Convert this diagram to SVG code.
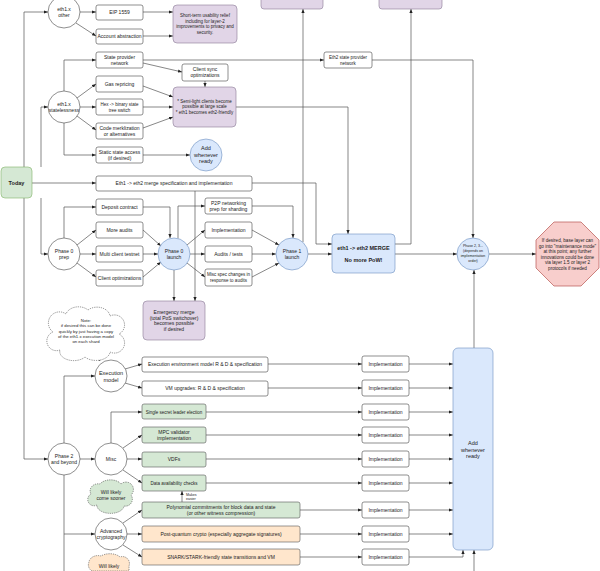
<svg xmlns="http://www.w3.org/2000/svg" width="600" height="571" viewBox="0 0 600 571">
<defs>
<marker id="a" viewBox="0 0 10 10" refX="10" refY="5" markerWidth="4" markerHeight="4" markerUnits="userSpaceOnUse" orient="auto"><path d="M0,1 L10,5 L0,9 z" fill="#222"/></marker>
<style>
text{font-family:"Liberation Sans",Arial,sans-serif;font-size:5px;fill:#222;text-anchor:middle}
.s{font-size:4.5px}
.c{fill:none;stroke:#555;stroke-width:0.7;marker-end:url(#a)}
.n{fill:none;stroke:#555;stroke-width:0.7}
.w{fill:#fff;stroke:#444;stroke-width:0.6}
.p{fill:#e1d5e7;stroke:#8a7a95;stroke-width:0.6}
.g{fill:#d5e8d4;stroke:#555;stroke-width:0.6}
.o{fill:#ffe6cc;stroke:#555;stroke-width:0.6}
.bl{fill:#dae8fc;stroke:#6c8ebf;stroke-width:0.6}
.r{fill:#f8cecc;stroke:#b85450;stroke-width:0.7}
.cl{stroke-dasharray:1.2 1;stroke:#444;stroke-width:0.6}
.bd{font-weight:bold}
</style>
</defs>
<rect width="600" height="571" fill="#fff"/>

<g id="connectors">
<path class="c" d="M24,167 V12 H48"/>
<path class="c" d="M41,167 V107 H48"/>
<path class="c" d="M32,183 H96"/>
<path class="c" d="M41,198 V254 H48"/>
<path class="c" d="M24,198 V459 H48"/>
<path class="c" d="M80,12 H96"/>
<path class="c" d="M76,23 L96,36"/>
<path class="c" d="M143,12 H173"/>
<path class="c" d="M143,36 H173"/>
<path class="c" d="M64,91 V60 H96"/>
<path class="c" d="M77,98 L96,84"/>
<path class="c" d="M80,107 H96"/>
<path class="c" d="M77,116 L96,130"/>
<path class="c" d="M64,123 V155 H96"/>
<path class="c" d="M143,63 L182,72"/>
<path class="c" d="M143,86 L173,97"/>
<path class="c" d="M143,107 H173"/>
<path class="c" d="M143,128 L173,117"/>
<path class="c" d="M205,81 V87"/>
<path class="c" d="M143,155 H190"/>
<path class="c" d="M143,60 H324"/>
<path class="c" d="M372,60 H473 V238"/>
<path class="c" d="M236,107 H348 V234"/>
<path class="c" d="M252,183 H316 V244 H332"/>
<path class="c" d="M195,191 V301"/>
<path class="c" d="M64,238 V207 H96"/>
<path class="c" d="M77,245 L96,230"/>
<path class="c" d="M80,254 H96"/>
<path class="c" d="M77,263 L96,277"/>
<path class="c" d="M143,207 H170 V238"/>
<path class="c" d="M143,230 L161,246"/>
<path class="c" d="M143,254 H158"/>
<path class="c" d="M143,277 L161,262"/>
<path class="c" d="M178,238.5 V206 H205"/>
<path class="c" d="M187,245 L205,230"/>
<path class="c" d="M190,254 H205"/>
<path class="c" d="M187,263 L205,277"/>
<path class="c" d="M174,270 V301"/>
<path class="c" d="M252,206 H293 V238"/>
<path class="c" d="M252,230 L279,245"/>
<path class="c" d="M252,254 H276"/>
<path class="c" d="M252,277 L279,263"/>
<path class="c" d="M308,254 H332"/>
<path class="c" d="M303,242 V9"/>
<path class="c" d="M395,244 H411 V9"/>
<path class="c" d="M395,254 H457"/>
<path class="c" d="M489,254 H536"/>
<path class="c" d="M474,348 V270"/>
<path class="c" d="M64,443 V376 H95"/>
<path class="c" d="M125,369 L142,364"/>
<path class="c" d="M125,383 L142,388"/>
<path class="c" d="M80,459 H95"/>
<path class="c" d="M111,443 V412 H142"/>
<path class="c" d="M123,448 L142,435"/>
<path class="c" d="M127,459 H142"/>
<path class="c" d="M123,470 L142,483"/>
<path class="n" d="M64,475 V571"/>
<path class="c" d="M64,534 H95"/>
<path class="c" d="M123,523 L142,510"/>
<path class="c" d="M127,534 H142"/>
<path class="c" d="M123,545 L142,557"/>
<path class="c" d="M182,502 V491"/>
<path class="c" d="M96,355 L100,361"/>
<path class="c" d="M268,364 H362"/><path class="c" d="M409,364 H453"/>
<path class="c" d="M268,388 H362"/><path class="c" d="M409,388 H453"/>
<path class="c" d="M206,412 H362"/><path class="c" d="M409,412 H453"/>
<path class="c" d="M206,435 H362"/><path class="c" d="M409,435 H453"/>
<path class="c" d="M206,459 H362"/><path class="c" d="M409,459 H453"/>
<path class="c" d="M206,483 H362"/><path class="c" d="M409,483 H453"/>
<path class="c" d="M300,510 H362"/><path class="c" d="M409,510 H453"/>
<path class="c" d="M300,534 H362"/><path class="c" d="M409,534 H453"/>
<path class="c" d="M300,557 H362"/><path class="c" d="M409,557 H463 V550"/>
<path class="c" d="M474,571 V550"/>
</g>

<g id="today"><rect class="g" x="1" y="167" width="31" height="31" rx="4" style="stroke:#82b366"/><text x="16.5" y="185" class="bd" style="font-size:5.5px">Today</text></g>

<g id="top1"><rect class="p" x="261" y="-10" width="62" height="19" rx="3"/></g>
<g id="top2"><rect class="p" x="379" y="-10" width="63" height="19" rx="3"/></g>

<g id="eth1other"><circle class="w" cx="64" cy="12" r="16"/><text x="64" y="11">eth1.x</text><text x="64" y="17">other</text></g>
<g id="eip1559"><rect class="w" x="96" y="5" width="47" height="15" rx="2"/><text x="119.5" y="14">EIP 1559</text></g>
<g id="accabs"><rect class="w" x="96" y="29" width="47" height="15" rx="2"/><text x="119.5" y="38">Account abstraction</text></g>
<g id="shortterm"><rect class="p" x="173" y="5" width="64" height="38" rx="4"/><text class="s" x="205" y="17">Short-term usability relief</text><text class="s" x="205" y="22.5">including for layer-2</text><text class="s" x="205" y="28">improvements to privacy and</text><text class="s" x="205" y="33.5">security.</text></g>

<g id="stateless"><circle class="w" cx="64" cy="107" r="16"/><text x="64" y="106">eth1.x</text><text x="64" y="112">statelessness</text></g>
<g id="spn"><rect class="w" x="96" y="52" width="47" height="16" rx="2"/><text x="119.5" y="59">State provider</text><text x="119.5" y="65">network</text></g>
<g id="gas"><rect class="w" x="96" y="76" width="47" height="16" rx="2"/><text x="119.5" y="85.5">Gas repricing</text></g>
<g id="hex"><rect class="w" x="96" y="99" width="47" height="16" rx="2"/><text class="s" x="119.5" y="106">Hex -&gt; binary state</text><text class="s" x="119.5" y="112">tree switch</text></g>
<g id="code"><rect class="w" x="96" y="123" width="47" height="16" rx="2"/><text x="119.5" y="129.5">Code merklization</text><text x="119.5" y="135.5">or alternatives</text></g>
<g id="static"><rect class="w" x="96" y="147" width="47" height="16" rx="2"/><text x="119.5" y="153.5">Static state access</text><text x="119.5" y="159.5">(if desired)</text></g>
<g id="clientsync"><rect class="w" x="182" y="64" width="46" height="17" rx="2"/><text x="205" y="71">Client sync</text><text x="205" y="77">optimizations</text></g>
<g id="semilight"><rect class="p" x="173" y="87" width="63" height="40" rx="4"/><text class="s" x="204.5" y="102.5">* Semi-light clients become</text><text class="s" x="204.5" y="108">possible at large scale</text><text class="s" x="204.5" y="113.5">* eth1 becomes eth2-friendly</text></g>
<g id="addready1"><circle class="bl" cx="206" cy="155" r="16"/><text x="206" y="150" style="font-size:5.5px">Add</text><text x="206" y="156.5" style="font-size:5.5px">whenever</text><text x="206" y="163" style="font-size:5.5px">ready</text></g>
<g id="eth2spn"><rect class="w" x="324" y="52" width="48" height="16" rx="2"/><text class="s" x="348" y="59">Eth2 state provider</text><text class="s" x="348" y="65">network</text></g>

<g id="mergespec"><rect class="w" x="96" y="176" width="156" height="15" rx="2"/><text x="174" y="185">Eth1 -&gt; eth2 merge specification and implementation</text></g>

<g id="p0prep"><circle class="w" cx="64" cy="254" r="16"/><text x="64" y="253">Phase 0</text><text x="64" y="259">prep</text></g>
<g id="deposit"><rect class="w" x="96" y="199" width="47" height="16" rx="2"/><text x="119.5" y="208.5">Deposit contract</text></g>
<g id="audits"><rect class="w" x="96" y="222" width="47" height="16" rx="2"/><text x="119.5" y="231.5">More audits</text></g>
<g id="testnet"><rect class="w" x="96" y="246" width="47" height="16" rx="2"/><text x="119.5" y="255.5">Multi client testnet</text></g>
<g id="clientopt"><rect class="w" x="96" y="270" width="47" height="16" rx="2"/><text x="119.5" y="279.5">Client optimizations</text></g>
<g id="p0launch"><circle class="bl" cx="174" cy="254" r="16"/><text x="174" y="253">Phase 0</text><text x="174" y="259">launch</text></g>
<g id="p2p"><rect class="w" x="205" y="198" width="47" height="16" rx="2"/><text x="228.5" y="204.5">P2P networking</text><text x="228.5" y="210.5">prep for sharding</text></g>
<g id="impl0"><rect class="w" x="205" y="222" width="47" height="16" rx="2"/><text x="228.5" y="231.5">Implementation</text></g>
<g id="auditstests"><rect class="w" x="205" y="246" width="47" height="16" rx="2"/><text x="228.5" y="255.5">Audits / tests</text></g>
<g id="miscspec"><rect class="w" x="205" y="269" width="47" height="17" rx="2"/><text class="s" x="228.5" y="276">Misc spec changes in</text><text class="s" x="228.5" y="282">response to audits</text></g>
<g id="p1launch"><circle class="bl" cx="292" cy="254" r="16"/><text x="292" y="253">Phase 1</text><text x="292" y="259">launch</text></g>
<g id="emergency"><rect class="p" x="143" y="301" width="62" height="39" rx="4"/><text x="174" y="314">Emergency merge</text><text x="174" y="319.5">(total PoS switchover)</text><text x="174" y="325">becomes possible</text><text x="174" y="330.5">if desired</text></g>
<g id="merge"><rect class="bl" x="332" y="234" width="63" height="39" rx="4"/><text x="363.5" y="250" class="bd" style="font-size:5.5px">eth1 -&gt; eth2 MERGE</text><text x="363.5" y="262" class="bd" style="font-size:5.5px">No more PoW!</text></g>
<g id="p23"><circle class="bl" cx="473" cy="254" r="16"/><text x="473" y="247" style="font-size:3.6px">Phase 2, 3...</text><text x="473" y="252" style="font-size:3.6px">(depends on</text><text x="473" y="257" style="font-size:3.6px">implementation</text><text x="473" y="262" style="font-size:3.6px">order)</text></g>
<g id="maint"><polygon class="r" points="554,222 581,222 599,240 599,268 581,286 554,286 536,268 536,240"/><text x="567.5" y="242" style="font-size:4.6px">If desired, base layer can</text><text x="567.5" y="247.5" style="font-size:4.6px">go into "maintenance mode"</text><text x="567.5" y="253" style="font-size:4.6px">at this point; any further</text><text x="567.5" y="258.5" style="font-size:4.6px">innovations could be done</text><text x="567.5" y="264" style="font-size:4.6px">via layer 1.5 or layer 2</text><text x="567.5" y="269.5" style="font-size:4.6px">protocols if needed</text></g>

<g id="note"><path class="w cl" d="M60,350 A9,9 0 0 1 53,332 A11,11 0 0 1 66,314 A13,10 0 0 1 88,310 A13,10 0 0 1 110,316 A10,10 0 0 1 119,334 A10,10 0 0 1 110,352 A14,9 0 0 1 85,357 A14,9 0 0 1 60,350 Z"/><text x="86" y="322" style="font-size:4.3px">Note:</text><text x="86" y="327.3" style="font-size:4.3px">if desired this can be done</text><text x="86" y="332.6" style="font-size:4.3px">quickly by just having a copy</text><text x="86" y="337.9" style="font-size:4.3px">of the eth1.x execution model</text><text x="86" y="343.2" style="font-size:4.3px">on each shard</text></g>

<g id="p2"><circle class="w" cx="64" cy="459" r="16"/><text x="64" y="458">Phase 2</text><text x="64" y="464">and beyond</text></g>
<g id="execmodel"><circle class="w" cx="111" cy="376" r="16"/><text x="111" y="375" style="font-size:5.5px">Execution</text><text x="111" y="381.5" style="font-size:5.5px">model</text></g>
<g id="misc"><circle class="w" cx="111" cy="459" r="16"/><text x="111" y="461">Misc</text></g>
<g id="advcrypto"><circle class="w" cx="111" cy="534" r="16"/><text x="111" y="533">Advanced</text><text x="111" y="539">cryptography</text></g>
<g id="sooner"><path class="g cl" d="M97,505 A6,6 0 0 1 91,494 A8,7 0 0 1 100,484 A12,8 0 0 1 121,484 A7,7 0 0 1 131,495 A7,7 0 0 1 124,506 A12,7 0 0 1 97,505 Z" style="stroke:#444"/><text x="111" y="494">Will likely</text><text x="111" y="500">come sooner</text></g>
<g id="later"><path class="o cl" d="M92,571 A7,7 0 0 1 89,562 A9,7 0 0 1 101,556 A12,7 0 0 1 120,557 A7,7 0 0 1 129,566 L129,571 Z" style="stroke:#444"/><text x="109" y="568">Will likely</text></g>

<g id="eerd"><rect class="w" x="142" y="357" width="126" height="15" rx="2"/><text x="205" y="366">Execution environment model R &amp; D &amp; specification</text></g>
<g id="vmup"><rect class="w" x="142" y="381" width="126" height="15" rx="2"/><text x="205" y="390">VM upgrades: R &amp; D &amp; specification</text></g>
<g id="ssle"><rect class="g" x="142" y="404" width="64" height="15" rx="2"/><text class="s" x="174" y="413.5">Single secret leader election</text></g>
<g id="mpc"><rect class="g" x="142" y="427" width="64" height="16" rx="2"/><text x="174" y="434">MPC validator</text><text x="174" y="440">implementation</text></g>
<g id="vdf"><rect class="g" x="142" y="452" width="64" height="15" rx="2"/><text x="174" y="461">VDFs</text></g>
<g id="dac"><rect class="g" x="142" y="475" width="64" height="16" rx="2"/><text class="s" x="174" y="484.5">Data availability checks</text></g>
<text x="186" y="495.5" style="font-size:3.6px;text-anchor:start">Makes</text><text x="186" y="500" style="font-size:3.6px;text-anchor:start">easier</text>
<g id="poly"><rect class="g" x="142" y="502" width="158" height="16" rx="2"/><text x="221" y="508.5">Polynomial commitments for block data and state</text><text x="221" y="514.5">(or other witness compression)</text></g>
<g id="pq"><rect class="o" x="142" y="526" width="158" height="16" rx="2"/><text x="221" y="535.5">Post-quantum crypto (especially aggregate signatures)</text></g>
<g id="snark"><rect class="o" x="142" y="549" width="158" height="16" rx="2"/><text x="221" y="558.5">SNARK/STARK-friendly state transitions and VM</text></g>

<g id="impl1"><rect class="w" x="362" y="356" width="47" height="16" rx="2"/><text x="385.5" y="365.5">Implementation</text></g>
<g id="impl2"><rect class="w" x="362" y="380" width="47" height="16" rx="2"/><text x="385.5" y="389.5">Implementation</text></g>
<g id="impl3"><rect class="w" x="362" y="404" width="47" height="16" rx="2"/><text x="385.5" y="413.5">Implementation</text></g>
<g id="impl4"><rect class="w" x="362" y="427" width="47" height="16" rx="2"/><text x="385.5" y="436.5">Implementation</text></g>
<g id="impl5"><rect class="w" x="362" y="451" width="47" height="16" rx="2"/><text x="385.5" y="460.5">Implementation</text></g>
<g id="impl6"><rect class="w" x="362" y="475" width="47" height="16" rx="2"/><text x="385.5" y="484.5">Implementation</text></g>
<g id="impl7"><rect class="w" x="362" y="502" width="47" height="16" rx="2"/><text x="385.5" y="511.5">Implementation</text></g>
<g id="impl8"><rect class="w" x="362" y="526" width="47" height="16" rx="2"/><text x="385.5" y="535.5">Implementation</text></g>
<g id="impl9"><rect class="w" x="362" y="549" width="47" height="16" rx="2"/><text x="385.5" y="558.5">Implementation</text></g>
<g id="addready2"><rect class="bl" x="453" y="348" width="40" height="202" rx="5"/><text x="473" y="445" style="font-size:5.5px">Add</text><text x="473" y="451.5" style="font-size:5.5px">whenever</text><text x="473" y="458" style="font-size:5.5px">ready</text></g>
</svg>
